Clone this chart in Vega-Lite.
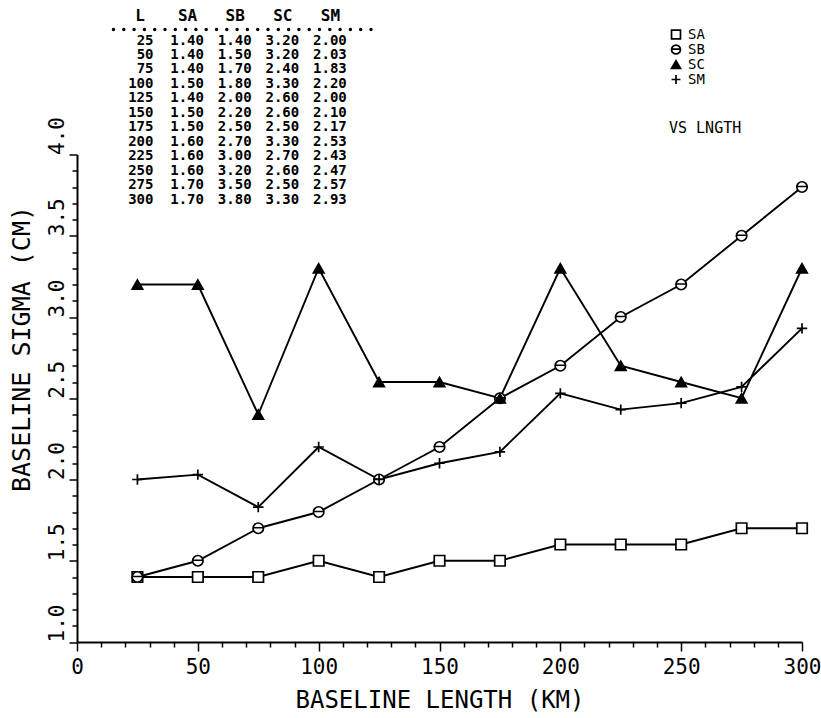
{
  "$schema": "https://vega.github.io/schema/vega-lite/v6.json",
  "width": 725,
  "height": 487.5,
  "autosize": {"type": "none"},
  "padding": {"left": 77, "top": 154.5, "right": 19, "bottom": 76},
  "background": "white",
  "config": {"view": {"stroke": null}, "font": "DejaVu Sans Mono"},
  "datasets": {
    "baseline": [
      {"L": 25, "SA": 1.40, "SB": 1.40, "SC": 3.20, "SM": 2.00},
      {"L": 50, "SA": 1.40, "SB": 1.50, "SC": 3.20, "SM": 2.03},
      {"L": 75, "SA": 1.40, "SB": 1.70, "SC": 2.40, "SM": 1.83},
      {"L": 100, "SA": 1.50, "SB": 1.80, "SC": 3.30, "SM": 2.20},
      {"L": 125, "SA": 1.40, "SB": 2.00, "SC": 2.60, "SM": 2.00},
      {"L": 150, "SA": 1.50, "SB": 2.20, "SC": 2.60, "SM": 2.10},
      {"L": 175, "SA": 1.50, "SB": 2.50, "SC": 2.50, "SM": 2.17},
      {"L": 200, "SA": 1.60, "SB": 2.70, "SC": 3.30, "SM": 2.53},
      {"L": 225, "SA": 1.60, "SB": 3.00, "SC": 2.70, "SM": 2.43},
      {"L": 250, "SA": 1.60, "SB": 3.20, "SC": 2.60, "SM": 2.47},
      {"L": 275, "SA": 1.70, "SB": 3.50, "SC": 2.50, "SM": 2.57},
      {"L": 300, "SA": 1.70, "SB": 3.80, "SC": 3.30, "SM": 2.93}
    ]
  },
  "data": {"name": "baseline"},
  "layer": [
    {
      "transform": [{"fold": ["SA", "SB", "SC", "SM"], "as": ["series", "sigma"]}],
      "encoding": {
        "x": {
          "field": "L", "type": "quantitative",
          "scale": {"domain": [0, 300], "nice": false, "zero": false},
          "axis": {
            "values": [0,10,20,30,40,50,60,70,80,90,100,110,120,130,140,150,160,170,180,190,200,210,220,230,240,250,260,270,280,290,300],
            "labelExpr": "datum.value % 50 === 0 ? datum.label : ''",
            "format": "d",
            "tickSize": {"condition": {"test": "datum.value % 50 === 0", "value": 9}, "value": 5},
            "tickColor": "black", "tickWidth": 1.5,
            "domainColor": "black", "domainWidth": 2,
            "labelFontSize": 21, "labelColor": "black", "labelPadding": 5, "labelFlush": false,
            "labelFont": "DejaVu Sans Mono",
            "title": "BASELINE LENGTH (KM)", "titleFontSize": 24, "titleFontWeight": "normal",
            "titleFont": "DejaVu Sans Mono", "titleColor": "black", "titlePadding": 11,
            "grid": false
          }
        },
        "y": {
          "field": "sigma", "type": "quantitative",
          "scale": {"domain": [1.0, 4.0], "nice": false, "zero": false},
          "axis": {
            "values": [1.0,1.1,1.2,1.3,1.4,1.5,1.6,1.7,1.8,1.9,2.0,2.1,2.2,2.3,2.4,2.5,2.6,2.7,2.8,2.9,3.0,3.1,3.2,3.3,3.4,3.5,3.6,3.7,3.8,3.9,4.0],
            "labelExpr": "abs(datum.value * 2 - round(datum.value * 2)) < 0.01 ? format(datum.value, '.1f') : ''",
            "tickSize": {"condition": {"test": "abs(datum.value * 2 - round(datum.value * 2)) < 0.01", "value": 8}, "value": 5},
            "tickColor": "black", "tickWidth": 1.5,
            "domainColor": "black", "domainWidth": 2,
            "labelAngle": 270, "labelAlign": "left", "labelBaseline": "bottom",
            "labelFontSize": 21, "labelColor": "black", "labelPadding": 2,
            "labelFont": "DejaVu Sans Mono",
            "title": "BASELINE SIGMA (CM)", "titleFontSize": 25, "titleFontWeight": "normal",
            "titleFont": "DejaVu Sans Mono", "titleColor": "black", "titlePadding": 12,
            "titleY": 194,
            "grid": false
          }
        }
      },
      "layer": [
        {
          "mark": {"type": "line", "color": "black", "strokeWidth": 1.9},
          "encoding": {"detail": {"field": "series"}}
        },
        {
          "mark": {"type": "point", "strokeWidth": 1.7, "opacity": 1, "fillOpacity": 1, "strokeOpacity": 1, "size": 110},
          "encoding": {
            "shape": {
              "field": "series", "type": "nominal",
              "scale": {
                "domain": ["SA", "SB", "SC", "SM"],
                "range": ["square", "M-1,0A1,1,0,1,1,1,0A1,1,0,1,1,-1,0ZM-1,-0.1L1,-0.1", "triangle-up", "M-1,0L1,0M0,-1L0,1"]
              },
              "legend": {
                "orient": "none", "legendX": 592, "legendY": -127,
                "title": "VS LNGTH", "titleOrient": "bottom", "titleFontSize": 15,
                "titleFontWeight": "normal", "titleFont": "DejaVu Sans Mono", "titleColor": "black",
                "titlePadding": 33, "titleAnchor": "start",
                "labelFontSize": 14, "labelFont": "DejaVu Sans Mono", "labelColor": "black",
                "symbolStrokeWidth": 1.7, "symbolSize": 80, "symbolOpacity": 1,
                "rowPadding": -1, "labelOffset": 5
              }
            },
            "fill": {
              "field": "series", "type": "nominal",
              "scale": {"domain": ["SA", "SB", "SC", "SM"], "range": ["white", "white", "black", "white"]},
              "legend": {
                "orient": "none", "legendX": 592, "legendY": -127,
                "title": "VS LNGTH"
              }
            },
            "stroke": {
              "field": "series", "type": "nominal",
              "scale": {"domain": ["SA", "SB", "SC", "SM"], "range": ["black", "black", "black", "black"]},
              "legend": {
                "orient": "none", "legendX": 592, "legendY": -127,
                "title": "VS LNGTH"
              }
            }
          }
        }
      ]
    },
    {
      "encoding": {
        "y": {
          "field": "L", "type": "quantitative",
          "scale": {"domain": [25, 300], "range": [-114, 45], "nice": false, "zero": false},
          "axis": null
        }
      },
      "layer": [
        {
          "mark": {"type": "text", "font": "DejaVu Sans Mono", "fontWeight": "bold", "fontSize": 14, "align": "right", "baseline": "middle", "dx": 14, "color": "black"},
          "encoding": {
            "x": {
              "datum": "L", "type": "nominal",
              "scale": {"type": "point", "domain": ["L", "SA", "SB", "SC", "SM"], "range": [36, 303], "padding": 0.804, "align": 0.346},
              "axis": {
                "orient": "top", "offset": 125.5, "title": null,
                "domain": true, "domainColor": "black", "domainDash": [0, 10.3], "domainWidth": 3.5, "domainCap": "round",
                "ticks": false, "labelAngle": 0, "labelPadding": 6,
                "labelFont": "DejaVu Sans Mono", "labelFontSize": 16, "labelFontWeight": "bold", "labelColor": "black",
                "grid": false
              }
            },
            "text": {"field": "L", "type": "quantitative", "format": "d"}
          }
        },
        {
          "transform": [{"fold": ["SA", "SB", "SC", "SM"], "as": ["key", "value"]}],
          "mark": {"type": "text", "font": "DejaVu Sans Mono", "fontWeight": "bold", "fontSize": 14, "align": "center", "baseline": "middle", "color": "black"},
          "encoding": {
            "x": {"field": "key", "type": "nominal", "title": null},
            "text": {"field": "value", "type": "quantitative", "format": ".2f"}
          }
        }
      ]
    }
  ],
  "resolve": {"scale": {"x": "independent", "y": "independent"}, "axis": {"x": "independent", "y": "independent"}}
}
